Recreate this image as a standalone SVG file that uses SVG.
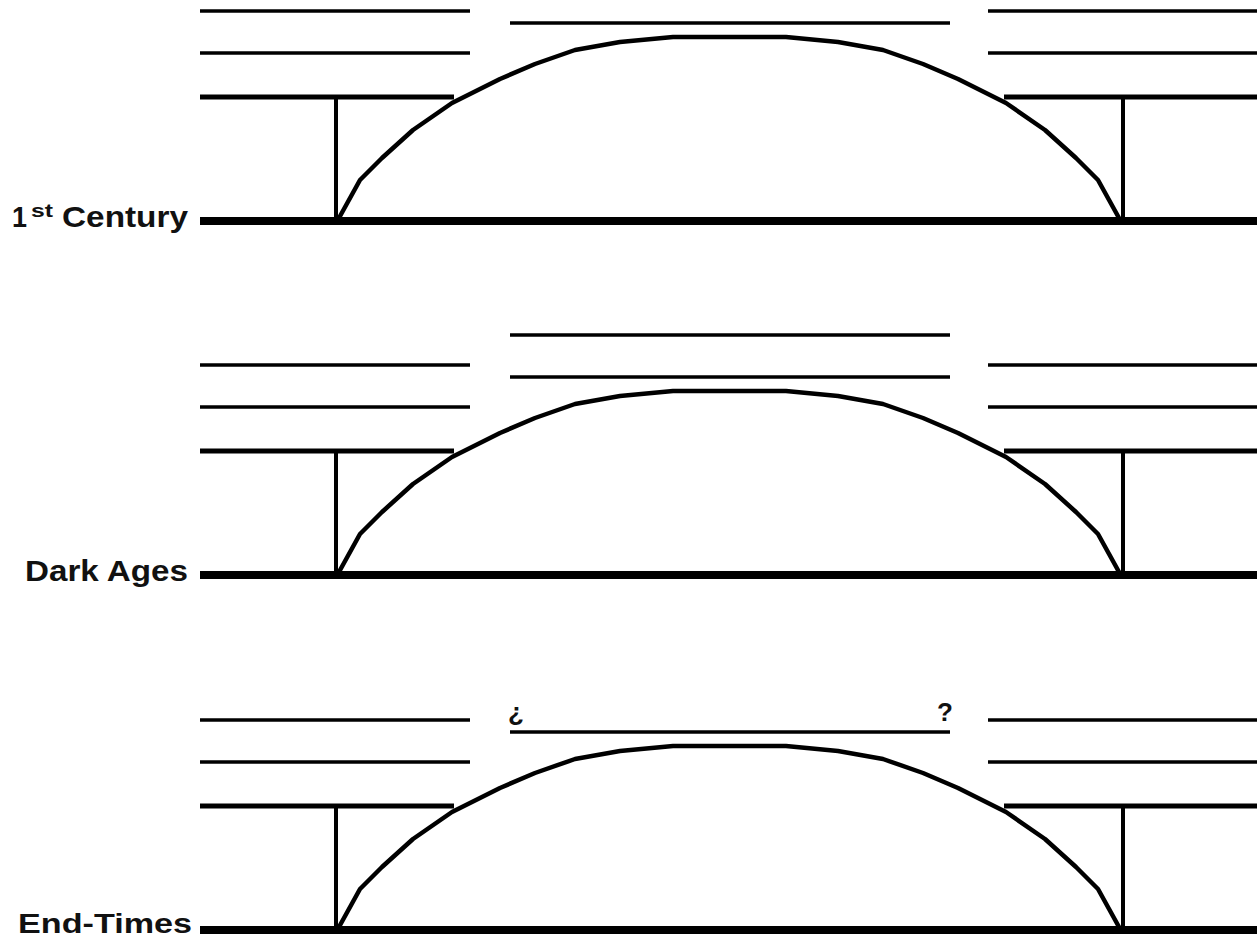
<svg xmlns="http://www.w3.org/2000/svg" width="1257" height="939" viewBox="0 0 1257 939">
<defs>
<style>
.thin{stroke:#000;stroke-width:3.5;fill:none}
.mid{stroke:#000;stroke-width:5;fill:none}
.post{stroke:#000;stroke-width:4;fill:none}
.base{stroke:#000;stroke-width:8;fill:none}
.arc{stroke:#000;stroke-width:4.5;fill:none;stroke-linejoin:round;stroke-linecap:round}
.lbl{font-family:"Liberation Sans",Arial,sans-serif;font-weight:bold;fill:#111}
</style>
<g id="frame">
<line class="thin" x1="200" y1="11" x2="470" y2="11"/>
<line class="thin" x1="200" y1="53" x2="470" y2="53"/>
<line class="mid" x1="200" y1="97" x2="454" y2="97"/>
<line class="thin" x1="988" y1="11" x2="1257" y2="11"/>
<line class="thin" x1="988" y1="53" x2="1257" y2="53"/>
<line class="mid" x1="1004" y1="97" x2="1257" y2="97"/>
<line class="post" x1="336" y1="97" x2="336" y2="221"/>
<line class="post" x1="1123" y1="97" x2="1123" y2="221"/>
<line class="thin" x1="510" y1="23" x2="950" y2="23"/>
<polyline class="arc" points="339,218 360,180 382,158 413,130 452,103 500,79 535,64 575,50 620,42 673,37 786,37 838,42 883,50 923,64 958,79 1006,103 1045,130 1076,158 1098,180 1119,218"/>
<line class="base" x1="200" y1="221" x2="1257" y2="221"/>
</g>
</defs>
<g id="panel-1st-century">
<use href="#frame"/>
<text class="lbl" x="12" y="227" font-size="30" textLength="15" lengthAdjust="spacingAndGlyphs">1</text>
<text class="lbl" x="31" y="217" font-size="18" textLength="22" lengthAdjust="spacingAndGlyphs">st</text>
<text class="lbl" x="62" y="227" font-size="30" textLength="126" lengthAdjust="spacingAndGlyphs">Century</text>
</g>
<g id="panel-dark-ages">
<use href="#frame" transform="translate(0,354)"/>
<line class="thin" x1="510" y1="335" x2="950" y2="335"/>
<text class="lbl" x="25" y="581" font-size="30" textLength="163" lengthAdjust="spacingAndGlyphs">Dark Ages</text>
</g>
<g id="panel-end-times">
<use href="#frame" transform="translate(0,709)"/>
<text class="lbl" x="18" y="933" font-size="28" textLength="174" lengthAdjust="spacingAndGlyphs">End-Times</text>
<text class="lbl" x="508" y="721" font-size="26">¿</text>
<text class="lbl" x="937" y="721" font-size="26">?</text>
</g>
</svg>
